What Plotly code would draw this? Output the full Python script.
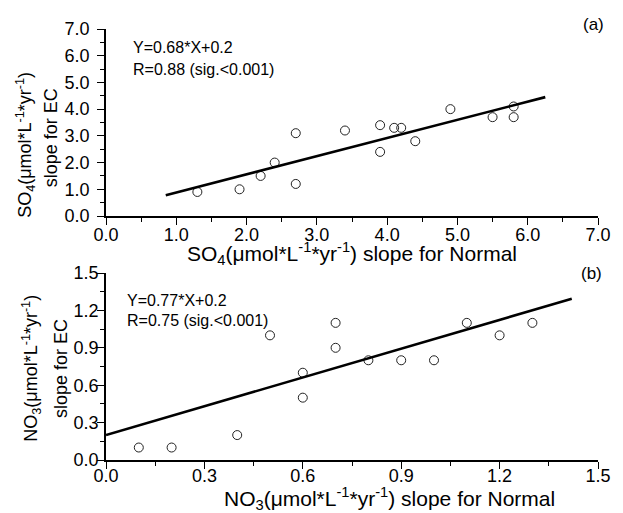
import plotly.graph_objects as go
import numpy as np

# Sulfate trend slopes (µmol L-1 yr-1): normal vs EC sites
so4_normal = [1.3, 1.9, 2.2, 2.4, 2.7, 2.7, 3.4, 3.9, 3.9, 4.1, 4.2, 4.4, 4.9, 5.5, 5.8, 5.8]
so4_ec = [0.9, 1.0, 1.5, 2.0, 3.1, 1.2, 3.2, 3.4, 2.4, 3.3, 3.3, 2.8, 4.0, 3.7, 4.1, 3.7]

# Nitrate trend slopes
no3_normal = [0.1, 0.2, 0.4, 0.5, 0.6, 0.6, 0.7, 0.7, 0.8, 0.9, 1.0, 1.1, 1.2, 1.3]
no3_ec = [0.1, 0.1, 0.2, 1.0, 0.7, 0.5, 1.1, 0.9, 0.8, 0.8, 0.8, 1.1, 1.0, 1.1]

# Linear fits: slope, intercept and drawn x-extent
so4_fit = (0.68, 0.2, [0.85, 6.25])
no3_fit = (0.77, 0.2, [0.0, 1.42])

so4_eq = ["Y=0.68*X+0.2", "R=0.88 (sig.<0.001)"]
no3_eq = ["Y=0.77*X+0.2", "R=0.75 (sig.<0.001)"]

FONT = "Liberation Sans, Arial, sans-serif"
W, H = 623, 513
ML, MR, MT, MB = 106, 14, 29, 53
PW, PH = W - ML - MR, H - MT - MB


def px(xp):
    return (xp - ML) / PW


def py(yp):
    return (H - MB - yp) / PH


fig = go.Figure()

marker = dict(symbol="circle-open", size=9, color="#222", line=dict(width=1, color="#222"))

fig.add_trace(go.Scatter(x=so4_normal, y=so4_ec, mode="markers", marker=marker,
                         xaxis="x", yaxis="y", showlegend=False))
fx = np.array(so4_fit[2])
fig.add_trace(go.Scatter(x=fx, y=so4_fit[0] * fx + so4_fit[1], mode="lines",
                         line=dict(color="black", width=2.6), xaxis="x", yaxis="y",
                         showlegend=False))

fig.add_trace(go.Scatter(x=no3_normal, y=no3_ec, mode="markers", marker=marker,
                         xaxis="x2", yaxis="y2", showlegend=False))
fx2 = np.array(no3_fit[2])
fig.add_trace(go.Scatter(x=fx2, y=no3_fit[0] * fx2 + no3_fit[1], mode="lines",
                         line=dict(color="black", width=2.6), xaxis="x2", yaxis="y2",
                         showlegend=False))

top_dom = [py(216), 1.0]
bot_dom = [0.0, py(273)]


def axis_style(rng, dtick, minor_dtick, domain, anchor, standoff):
    return dict(range=rng, dtick=dtick, tick0=0, tickformat=".1f", domain=domain, anchor=anchor,
                showline=True, linecolor="black", linewidth=1.6, mirror=False,
                ticks="outside", ticklen=7, tickwidth=1.4, tickcolor="black",
                minor=dict(dtick=minor_dtick, ticks="outside", ticklen=4, tickwidth=1.2,
                           tickcolor="black", showgrid=False),
                showgrid=False, zeroline=False, tickfont=dict(family=FONT, size=18, color="black"),
                ticklabelstandoff=standoff)


fig.update_layout(
    width=W, height=H,
    margin=dict(l=ML, r=MR, t=MT, b=MB),
    plot_bgcolor="white", paper_bgcolor="white",
    font=dict(family=FONT, color="black"),
    xaxis=axis_style([0, 7], 1.0, 0.5, [0, 1], "y", -5),
    yaxis=axis_style([0, 7], 1.0, 0.5, top_dom, "x", 4),
    xaxis2=axis_style([0, 1.5], 0.3, 0.15, [0, 1], "y2", -8),
    yaxis2=axis_style([0, 1.5], 0.3, 0.15, bot_dom, "x2", -5),
)

ann = []
# axis titles
ann.append(dict(text="SO<sub>4</sub>(μmol*L<sup>-1</sup>*yr<sup>-1</sup>) slope for Normal",
                x=px(358), y=py(253), font=dict(size=21)))
ann.append(dict(text="NO<sub>3</sub>(μmol*L<sup>-1</sup>*yr<sup>-1</sup>) slope for Normal",
                x=px(396), y=py(499), font=dict(size=21)))
ann.append(dict(text="SO<sub>4</sub>(μmol*L<sup>-1</sup>*yr<sup>-1</sup>)", textangle=-90,
                x=px(23), y=py(145), font=dict(size=18)))
ann.append(dict(text="slope for EC", textangle=-90, x=px(50), y=py(138), font=dict(size=18)))
ann.append(dict(text="NO<sub>3</sub>(μmol*L<sup>-1</sup>*yr<sup>-1</sup>)", textangle=-90,
                x=px(29), y=py(368), font=dict(size=18)))
ann.append(dict(text="slope for EC", textangle=-90, x=px(60), y=py(369), font=dict(size=18)))
# fit equations
for i, t in enumerate(so4_eq):
    ann.append(dict(text=t, x=px(132), y=py(48 + 21 * i), xanchor="left", font=dict(size=16)))
for i, t in enumerate(no3_eq):
    ann.append(dict(text=t, x=px(125), y=py(300 + 20 * i), xanchor="left", font=dict(size=16)))
# panel labels
ann.append(dict(text="(a)", x=px(604), y=py(25), font=dict(size=17)))
ann.append(dict(text="(b)", x=px(602), y=py(273), font=dict(size=17)))

for a in ann:
    a.setdefault("xanchor", "center")
    a.update(xref="paper", yref="paper", showarrow=False, yanchor="middle")
    a["font"] = dict(family=FONT, color="black", **a["font"])
fig.update_layout(annotations=ann)

fig.write_html("out.html")
